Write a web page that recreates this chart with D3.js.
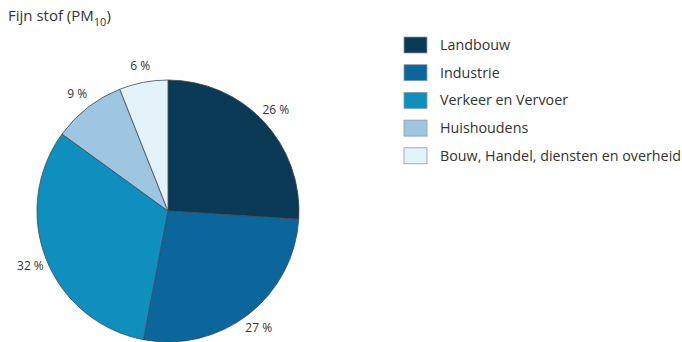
<!DOCTYPE html>
<html>
<head>
<meta charset="utf-8">
<script src="https://cdn.jsdelivr.net/npm/d3@7"></script>
<style>
  body { margin: 0; background: #fff; }
  text { font-family: "Open Sans", Lato, sans-serif; fill: #333; }
</style>
</head>
<body>
<div id="chart"></div>
<script>
const categories = ["Landbouw", "Industrie", "Verkeer en Vervoer", "Huishoudens", "Bouw, Handel, diensten en overheid"];
const shares = [26, 27, 32, 9, 6];
const colors = ["#0b3a56", "#0b679b", "#0e8fbe", "#9ec6e0", "#e4f2fa"];

const width = 682, height = 342;
const cx = 168, cy = 211, radius = 131;

let svg = d3.select("#chart")
  .append("svg")
  .attr("width", width)
  .attr("height", height);

// Title
let title = svg.append("text")
  .attr("x", 8)
  .attr("y", 21)
  .style("font-size", "15px");
title.append("tspan").text("Fijn stof (PM");
title.append("tspan").attr("dy", 5).style("font-size", "11px").text("10");
title.append("tspan").attr("dy", -5).text(")");

// Pie
const pie = d3.pie().sort(null).value(d => d.value);
const arcs = pie(categories.map((c, i) => ({ name: c, value: shares[i], color: colors[i] })));
const arc = d3.arc().innerRadius(0).outerRadius(radius);
const labelArc = d3.arc().innerRadius(148).outerRadius(148);

let g = svg.append("g")
  .attr("transform", "translate(" + cx + "," + cy + ")");

g.selectAll("path")
  .data(arcs)
  .enter()
  .append("path")
  .attr("d", arc)
  .style("fill", d => d.data.color)
  .style("stroke", "#3a4a55")
  .style("stroke-width", 0.8);

g.selectAll(".lbl")
  .data(arcs)
  .enter()
  .append("text")
  .attr("class", "lbl")
  .attr("transform", d => "translate(" + labelArc.centroid(d) + ")")
  .attr("dy", "0.35em")
  .style("text-anchor", "middle")
  .style("font-size", "12px")
  .text(d => d.data.value + " %");

// Legend
const legendX = 404, legendY = 37, legendStep = 27.7;

let legend = svg.selectAll(".legend")
  .data(categories)
  .enter()
  .append("g")
  .attr("class", "legend")
  .attr("transform", (d, i) => "translate(" + legendX + "," + (legendY + i * legendStep) + ")");

legend.append("rect")
  .attr("width", 23)
  .attr("height", 16)
  .style("fill", (d, i) => colors[i])
  .style("stroke", "#8a9aa5")
  .style("stroke-width", 0.8);

legend.append("text")
  .attr("x", 36)
  .attr("y", 8)
  .attr("dy", "0.35em")
  .style("font-size", "14.3px")
  .text(d => d);
</script>
</body>
</html>
